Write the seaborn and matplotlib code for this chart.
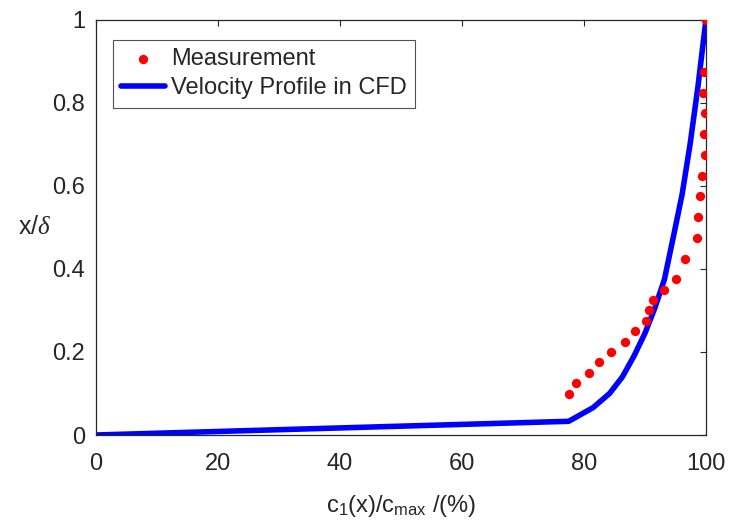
import numpy as np
import pandas as pd
import matplotlib.pyplot as plt
import seaborn as sns

# Measurement points (concentration ratio in %, normalised height)
meas_c = [77.5, 78.7, 80.9, 82.5, 84.5, 86.7, 88.4, 90.2, 90.7, 91.4, 93.2, 95.1,
          96.6, 98.6, 98.7, 99.1, 99.4, 99.9, 99.7, 99.9, 99.5, 99.7, 100.0]
meas_x = [0.100, 0.125, 0.150, 0.175, 0.200, 0.225, 0.250, 0.275, 0.300, 0.325, 0.350, 0.375,
          0.425, 0.475, 0.525, 0.575, 0.625, 0.675, 0.725, 0.775, 0.825, 0.875, 1.000]

# CFD velocity profile
cfd_c = [0.0, 77.5, 81.5, 84.2, 86.3, 88.2, 90.0, 91.6, 93.2, 94.7, 96.1, 97.4, 98.7, 100.0]
cfd_x = [0.0, 0.033, 0.066, 0.100, 0.140, 0.190, 0.245, 0.305, 0.375, 0.480, 0.580, 0.700, 0.840, 1.000]

sns.set_theme(style="white")
plt.rcParams["font.family"] = ["Liberation Sans", "DejaVu Sans"]
plt.rcParams["mathtext.fontset"] = "custom"
plt.rcParams["mathtext.rm"] = "Liberation Sans"
plt.rcParams["mathtext.it"] = "Liberation Serif:italic"

df_meas = pd.DataFrame({"c": meas_c, "x": meas_x})
df_cfd = pd.DataFrame({"c": cfd_c, "x": cfd_x})

fig = plt.figure(figsize=(7.3, 5.26), dpi=100)
ax = fig.add_axes([0.1315, 0.173, 0.8355, 0.789])

sns.lineplot(data=df_cfd, x="c", y="x", color="#0000ff", linewidth=4,
             label="Velocity Profile in CFD", sort=False, ax=ax, zorder=2)
sns.scatterplot(data=df_meas, x="c", y="x", color="#ff0000", s=45, linewidth=0,
                label="Measurement", ax=ax, zorder=3)

ax.set_xlim(0, 100)
ax.set_ylim(0, 1)
ax.set_xticks([0, 20, 40, 60, 80, 100])
ax.set_yticks([0, 0.2, 0.4, 0.6, 0.8, 1])
ax.set_yticklabels(["0", "0.2", "0.4", "0.6", "0.8", "1"])

for s in ax.spines.values():
    s.set_color("#262626")
    s.set_linewidth(0.9)
ax.tick_params(direction="in", length=4, width=0.8, color="#262626",
               top=True, right=True, labelsize=17, labelcolor="#262626")
ax.tick_params(axis="x", pad=13)
ax.tick_params(axis="y", pad=8)

ax.set_xlabel(r"c$_\mathrm{1}$(x)/c$_\mathrm{max}$ /(%)", fontsize=17, color="#262626", labelpad=13)
ax.set_ylabel(r"x/$\delta$", fontsize=18, color="#262626", rotation=0, va="center")
ax.yaxis.set_label_coords(-0.1, 0.5)

handles, labels = ax.get_legend_handles_labels()
order = [labels.index("Measurement"), labels.index("Velocity Profile in CFD")]
leg = ax.legend([handles[i] for i in order], [labels[i] for i in order],
                loc="upper left", bbox_to_anchor=(0.028, 0.952), fontsize=17,
                frameon=True, fancybox=False, edgecolor="#262626",
                handlelength=1.85, handletextpad=0.25, borderpad=0.35,
                labelspacing=0.3, borderaxespad=0)
leg.get_frame().set_linewidth(0.8)

fig.savefig("out.png", dpi=100)
